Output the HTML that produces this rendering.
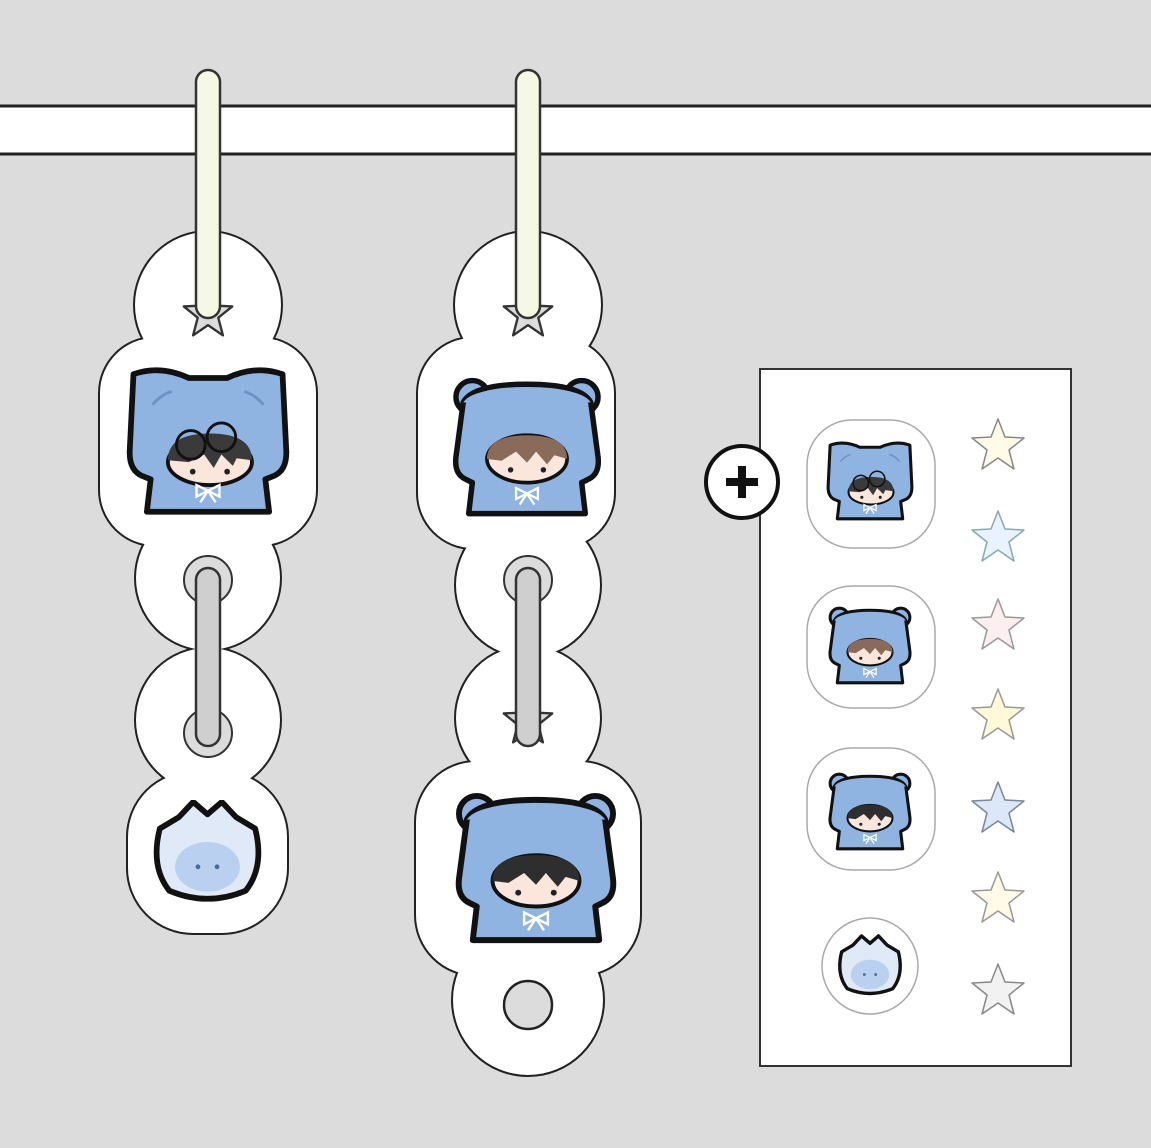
<!DOCTYPE html>
<html><head><meta charset="utf-8"><style>html,body{margin:0;padding:0;background:#dcdcdc}svg{display:block}</style></head><body>
<svg width="1151" height="1148" viewBox="0 0 1151 1148" xmlns="http://www.w3.org/2000/svg">
<defs>
<symbol id="cat" viewBox="0 0 180 160">
<path d="M12,8 Q40,-2 70,12 L110,12 Q140,-2 168,8 L172,90 Q172,108 160,114 L150,118 L154,152 L26,152 L30,118 L20,114 Q8,108 8,90 Z" fill="#8fb4e2" stroke="#111" stroke-width="6" stroke-linejoin="round"/>
<path d="M32,40 Q40,30 52,26 M148,40 Q140,30 128,26" stroke="#6d93c4" stroke-width="3" fill="none"/>
<ellipse cx="92" cy="100" rx="44" ry="24" fill="#fbe6dc" stroke="#111" stroke-width="4"/>
<path d="M48,98 Q48,70 92,70 Q136,70 136,98 L120,96 L116,104 L104,92 L96,106 L86,92 L70,100 Z" fill="#3a3a3a"/>
<circle cx="72" cy="82" r="15" fill="none" stroke="#111" stroke-width="3"/><circle cx="104" cy="74" r="15" fill="none" stroke="#111" stroke-width="3"/>
<circle cx="74" cy="110" r="3" fill="#222"/><circle cx="110" cy="110" r="3" fill="#222"/>
<path d="M90,130 l-12,-6 l0,12 z M90,130 l12,-6 l0,12 z M90,130 l-8,12 M90,130 l8,12" stroke="#fff" stroke-width="2.5" fill="none"/>
</symbol>
<symbol id="bear" viewBox="0 0 180 160">
<circle cx="30" cy="24" r="18" fill="#8fb4e2" stroke="#111" stroke-width="6"/>
<circle cx="150" cy="24" r="18" fill="#8fb4e2" stroke="#111" stroke-width="6"/>
<path d="M20,30 Q30,10 90,10 Q150,10 160,30 L168,90 Q170,108 158,114 L150,118 L154,152 L26,152 L30,118 L22,114 Q10,108 12,90 Z" fill="#8fb4e2" stroke="#111" stroke-width="6" stroke-linejoin="round"/>
<path d="M20,30 Q30,14 90,14 Q150,14 160,30" fill="#8fb4e2"/>
<ellipse cx="90" cy="92" rx="44" ry="26" fill="#fbe6dc" stroke="#111" stroke-width="4"/>
<path d="M46,92 Q46,66 90,66 Q134,66 134,92 L120,88 L112,98 L100,84 L90,96 L78,84 L62,94 Z"/>
<circle cx="72" cy="104" r="3" fill="#222"/><circle cx="108" cy="104" r="3" fill="#222"/>
<path d="M90,130 l-12,-6 l0,12 z M90,130 l12,-6 l0,12 z M90,130 l-8,12 M90,130 l8,12" stroke="#fff" stroke-width="2.5" fill="none"/>
</symbol>
<symbol id="ghost" viewBox="0 0 120 110">
<path d="M10,30 L30,18 L45,2 L60,15 L75,2 L90,18 L110,30 Q120,70 100,95 Q60,112 20,95 Q0,70 10,30 Z" fill="#dfe9f7" stroke="#111" stroke-width="6" stroke-linejoin="round"/>
<ellipse cx="60" cy="70" rx="34" ry="26" fill="#a9c4ec" opacity=".7"/>
<circle cx="50" cy="70" r="2.5" fill="#4a6a9a"/><circle cx="70" cy="70" r="2.5" fill="#4a6a9a"/>
</symbol>
<symbol id="star" viewBox="0 0 60 60">
<path d="M30,4 L37,22 L56,23 L41,35 L46,54 L30,43 L14,54 L19,35 L4,23 L23,22 Z" stroke-linejoin="round"/>
</symbol>
<g id="k1">
<circle cx="208" cy="305" r="73"/>
<rect x="100" y="338" width="216" height="207" rx="55"/>
<circle cx="208" cy="578" r="72"/>
<circle cx="208" cy="720" r="72"/>
<rect x="128" y="772" width="159" height="161" rx="65"/>
</g>
<g id="k2">
<circle cx="528" cy="305" r="73"/>
<rect x="418" y="338" width="196" height="210" rx="55"/>
<circle cx="528" cy="585" r="72"/>
<circle cx="528" cy="718" r="72"/>
<rect x="416" y="762" width="224" height="213" rx="60"/>
<circle cx="528" cy="1000" r="75"/>
</g>
</defs>
<rect width="1151" height="1148" fill="#dcdcdc"/>
<rect x="-5" y="106" width="1200" height="48" fill="#fff" stroke="#222" stroke-width="3"/>

<use href="#k1" fill="#222" stroke="#222" stroke-width="4"/>
<use href="#k1" fill="#fff"/>
<use href="#k2" fill="#222" stroke="#222" stroke-width="4"/>
<use href="#k2" fill="#fff"/>

<use href="#star" x="180" y="285" width="56" height="56" fill="#dcdcdc" stroke="#333" stroke-width="2.5"/>
<use href="#star" x="500" y="285" width="56" height="56" fill="#dcdcdc" stroke="#333" stroke-width="2.5"/>
<use href="#star" x="500" y="692" width="56" height="56" fill="#dcdcdc" stroke="#333" stroke-width="2.5"/>
<circle cx="528" cy="1005" r="24" fill="#dcdcdc" stroke="#222" stroke-width="2.5"/>
<rect x="196" y="70" width="24" height="248" rx="12" fill="#f5f8e2" stroke="#333" stroke-width="2.5"/>
<rect x="516" y="70" width="24" height="248" rx="12" fill="#f5f8e2" stroke="#333" stroke-width="2.5"/>
<circle cx="208" cy="580" r="24" fill="#dcdcdc" stroke="#333" stroke-width="2"/>
<circle cx="208" cy="733" r="24" fill="#dcdcdc" stroke="#333" stroke-width="2"/>
<rect x="196" y="568" width="24" height="178" rx="12" fill="#cfcfcf" stroke="#333" stroke-width="2.5"/>
<circle cx="528" cy="580" r="24" fill="#dcdcdc" stroke="#333" stroke-width="2"/>
<rect x="516" y="568" width="24" height="178" rx="12" fill="#cfcfcf" stroke="#333" stroke-width="2.5"/>
<use href="#cat" x="122" y="366" width="172" height="154"/>
<use href="#bear" x="445" y="374" width="164" height="148" fill="#8a6a58"/>
<use href="#bear" x="440" y="790" width="192" height="158" fill="#2e2e2e"/>
<use href="#ghost" x="150" y="800" width="115" height="105"/>

<rect x="760" y="369" width="311" height="697" fill="#fff" stroke="#333" stroke-width="2"/>
<rect x="807" y="420" width="128" height="128" rx="45" fill="#fff" stroke="#aaa" stroke-width="1.5"/>
<use href="#cat" x="824" y="438" width="92" height="88"/>
<rect x="807" y="586" width="128" height="122" rx="45" fill="#fff" stroke="#aaa" stroke-width="1.5"/>
<use href="#bear" x="824" y="602" width="92" height="88" fill="#8a6a58"/>
<rect x="807" y="748" width="128" height="122" rx="45" fill="#fff" stroke="#aaa" stroke-width="1.5"/>
<use href="#bear" x="824" y="768" width="92" height="88" fill="#2e2e2e"/>
<circle cx="870" cy="966" r="48" fill="#fff" stroke="#aaa" stroke-width="1.5"/>
<use href="#ghost" x="836" y="934" width="68" height="64"/>
<g stroke-width="1.5">
<use href="#star" x="968" y="415" width="60" height="60" fill="#fffbe6" stroke="#888"/>
<use href="#star" x="968" y="507" width="60" height="60" fill="#e8f3ff" stroke="#8aa"/>
<use href="#star" x="968" y="595" width="60" height="60" fill="#fdeef0" stroke="#999"/>
<use href="#star" x="968" y="685" width="60" height="60" fill="#fff9d8" stroke="#999"/>
<use href="#star" x="968" y="778" width="60" height="60" fill="#dce8f8" stroke="#789"/>
<use href="#star" x="968" y="868" width="60" height="60" fill="#fffbe6" stroke="#999"/>
<use href="#star" x="968" y="960" width="60" height="60" fill="#f2f2f2" stroke="#888"/>
</g>
<circle cx="742" cy="482" r="36" fill="#fff" stroke="#111" stroke-width="4"/>
<path d="M742,466 V498 M726,482 H758" stroke="#111" stroke-width="8"/>
</svg>
</body></html>
